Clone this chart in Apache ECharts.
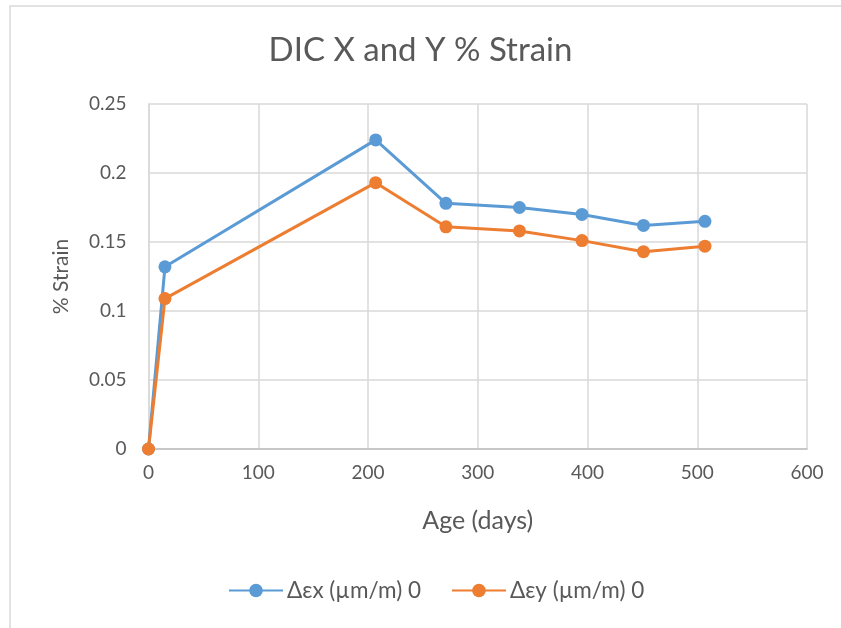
<!DOCTYPE html>
<html>
<head>
<meta charset="utf-8">
<script src="https://cdn.jsdelivr.net/npm/echarts@6/dist/echarts.min.js"></script>
<style>
  html, body { margin: 0; padding: 0; background: #fff; }
  #chart { width: 841px; height: 628px; }
</style>
</head>
<body>
<div id="chart"></div>
<script>
// Age of each reading, in days
const ageDays = [0, 15, 207, 271, 338, 395, 451, 507];
// Change in strain along X and Y (% strain)
const strainX = [0, 0.132, 0.224, 0.178, 0.175, 0.170, 0.162, 0.165];
const strainY = [0, 0.109, 0.193, 0.161, 0.158, 0.151, 0.143, 0.147];
const seriesNames = ['Δεx (µm/m) 0', 'Δεy (µm/m) 0'];

const textColor = '#595959';
const fontFamily = 'Lato, "Open Sans", sans-serif';

const chart = echarts.init(document.getElementById('chart'), null, { renderer: 'canvas' });

chart.setOption({
  backgroundColor: '#ffffff',
  animation: false,
  title: {
    text: 'DIC X and Y % Strain',
    left: 'center',
    top: 29,
    textStyle: { color: textColor, fontSize: 33, fontWeight: 'normal', fontFamily }
  },
  graphic: [{
    type: 'rect',
    shape: { x: 10, y: 6, width: 840, height: 640 },
    style: { fill: 'none', stroke: '#d9d9d9', lineWidth: 1.5 },
    silent: true
  }],
  legend: {
    bottom: 26,
    left: 228,
    padding: 0,
    itemWidth: 54,
    itemHeight: 17,
    itemGap: 30,
    textStyle: { color: textColor, fontSize: 22.5, fontFamily, padding: [0, 0, 0, -1] },
    data: seriesNames
  },
  grid: { left: 148.5, right: 34, top: 104, bottom: 179, containLabel: false },
  xAxis: {
    type: 'value',
    min: 0, max: 600, interval: 100,
    name: 'Age (days)',
    nameLocation: 'middle',
    nameGap: 59,
    nameTextStyle: { color: textColor, fontSize: 25, fontFamily },
    axisLine: { show: true, lineStyle: { color: '#bfbfbf', width: 1.5 } },
    axisTick: { show: false },
    axisLabel: { color: textColor, fontSize: 19, fontFamily, margin: 14 },
    splitLine: { show: true, lineStyle: { color: '#d9d9d9', width: 1.5 } }
  },
  yAxis: {
    type: 'value',
    min: 0, max: 0.25, interval: 0.05,
    name: '% Strain',
    nameLocation: 'middle',
    nameGap: 77,
    nameRotate: 90,
    nameTextStyle: { color: textColor, fontSize: 21, fontFamily },
    axisLine: { show: true, lineStyle: { color: '#d9d9d9', width: 1.5 } },
    axisTick: { show: false },
    axisLabel: { color: textColor, fontSize: 19, fontFamily, margin: 22 },
    splitLine: { show: true, lineStyle: { color: '#d9d9d9', width: 1.5 } }
  },
  series: [
    {
      name: seriesNames[0],
      type: 'line',
      data: ageDays.map((d, i) => [d, strainX[i]]),
      symbol: 'circle',
      symbolSize: 13,
      lineStyle: { color: '#5B9BD5', width: 3 },
      itemStyle: { color: '#5B9BD5' }
    },
    {
      name: seriesNames[1],
      type: 'line',
      data: ageDays.map((d, i) => [d, strainY[i]]),
      symbol: 'circle',
      symbolSize: 13,
      lineStyle: { color: '#ED7D31', width: 3 },
      itemStyle: { color: '#ED7D31' }
    }
  ]
});
</script>
</body>
</html>
